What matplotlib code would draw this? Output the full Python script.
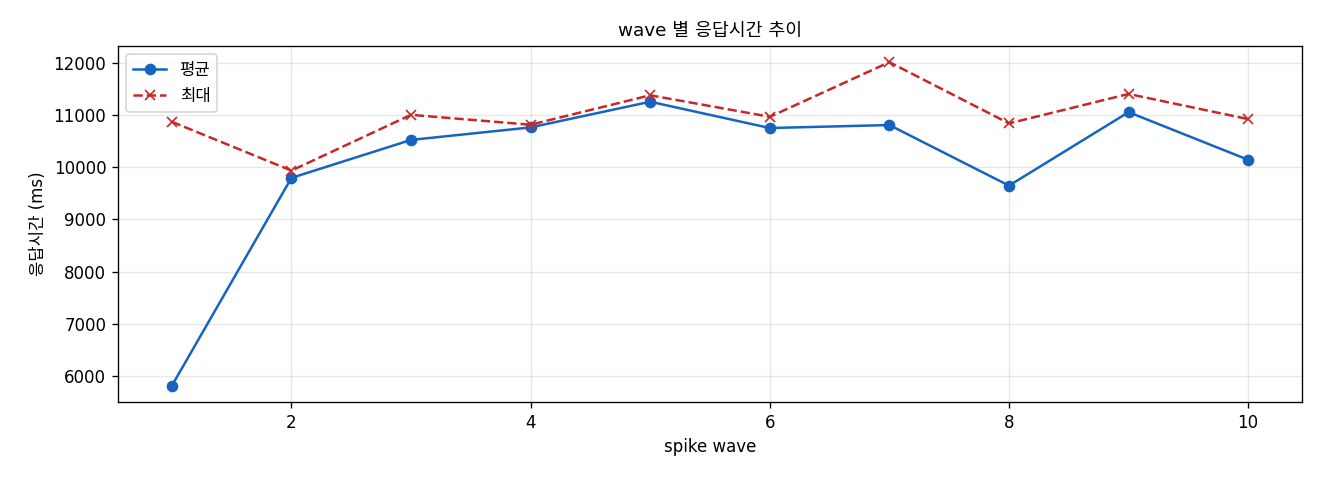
import matplotlib
matplotlib.use("Agg")
import matplotlib.pyplot as plt

# 라틴 글자는 DejaVu, 한글은 Noto CJK 로 넘어감
plt.rcParams['font.family'] = ['DejaVu Sans', 'Noto Sans CJK KR']
plt.rcParams['axes.unicode_minus'] = False

# spike wave 별 응답시간 (ms)
waves = [1, 2, 3, 4, 5, 6, 7, 8, 9, 10]
avg_ms = [5810, 9795, 10523, 10763, 11255, 10751, 10808, 9647, 11055, 10142]
max_ms = [10871, 9935, 11004, 10814, 11379, 10966, 12013, 10840, 11404, 10922]

fig, ax = plt.subplots(figsize=(11, 4), dpi=120)

ax.plot(waves, avg_ms, marker='o', color='#1565C0', linewidth=1.5, markersize=6, label='평균')
ax.plot(waves, max_ms, marker='x', linestyle='--', color='#C62828', linewidth=1.5, markersize=6, label='최대')

ax.set_title('wave 별 응답시간 추이', fontsize=11)
ax.set_xlabel('spike wave', fontsize=10)
ax.set_ylabel('응답시간 (ms)', fontsize=10)
ax.grid(True, alpha=0.3)
ax.legend(loc='upper left', fontsize=10)

fig.subplots_adjust(left=118/1320, right=1302/1320, top=1-46/480, bottom=1-402/480)
fig.savefig('out.png')
